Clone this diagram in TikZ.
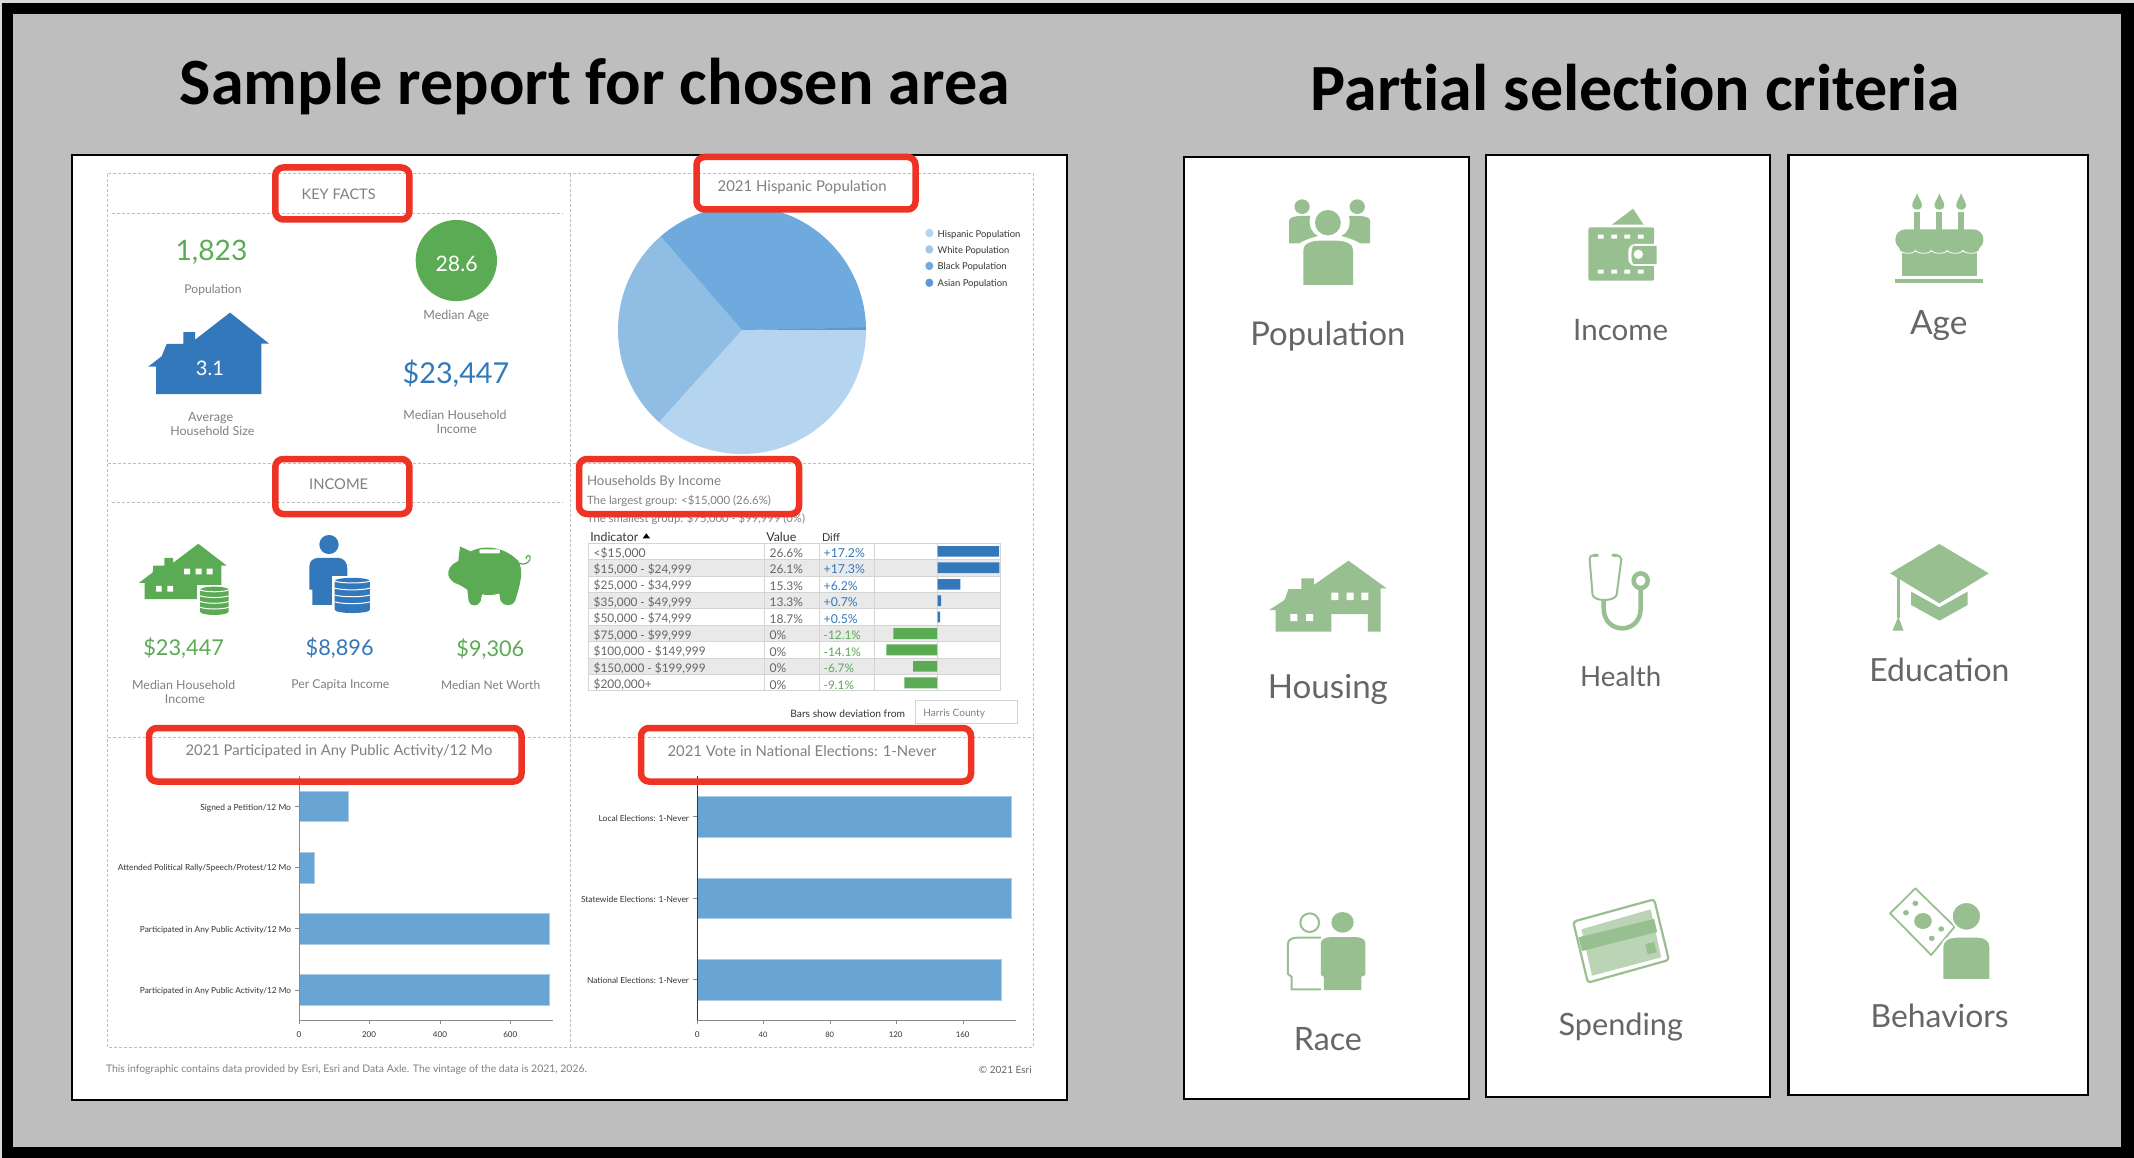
\documentclass[tikz,border=0pt]{standalone}
\usepackage{fontspec}
\usepackage{graphicx}
\setmainfont{Lato}
\newfontfamily\titlef[Ligatures=NoCommon]{Carlito}
\definecolor{bggray}{HTML}{BEBEBE}
\definecolor{redb}{HTML}{EE3224}
\definecolor{gr}{HTML}{5AAB54}
\definecolor{bl}{HTML}{3378BB}
\definecolor{barb}{HTML}{68A4D4}
\definecolor{sage}{HTML}{98BF90}
\definecolor{sagel}{HTML}{BCD4B6}
\definecolor{pieA}{HTML}{B5D4EF}
\definecolor{pieB}{HTML}{8FBDE4}
\definecolor{pieC}{HTML}{6EAADD}
\definecolor{pieD}{HTML}{5B9BD5}
\definecolor{rowg}{HTML}{E9E9E9}
\definecolor{gridc}{HTML}{D4D4D4}
\definecolor{dashc}{HTML}{BEBEBE}
\definecolor{t7}{HTML}{808080}
\definecolor{t6}{HTML}{666666}
\definecolor{t3}{HTML}{333333}
\definecolor{axc}{HTML}{8A8A8A}
\newcounter{tn}
\newcommand{\tx}[5][]{\stepcounter{tn}\node[txt,#1] (t\thetn) at (#2,#3) {\resizebox{#4pt}{!}{#5}};}
\newcommand{\coinstack}[6]{%
  \fill[white] (#1-#4-8,#2-6) rectangle (#1+#4+8,#3+6);
  \fill[#6] (#1-#4,#2+8) .. controls (#1-#4,#2-4) and (#1+#4,#2-4) .. (#1+#4,#2+8) -- (#1+#4,#3-8) .. controls (#1+#4,#3+4) and (#1-#4,#3+4) .. (#1-#4,#3-8) -- cycle;
  \foreach \k in {0,1,2,3}{\draw[white,line width=1pt] (#1-#4,{#2+8+\k*#5}) .. controls (#1-#4*0.5,{#2+14+\k*#5}) and (#1+#4*0.5,{#2+14+\k*#5}) .. (#1+#4,{#2+8+\k*#5});}
}
\newcommand{\trow}[8]{%
  \tx[anchor=west,text=t6]{56}{#1}{#3}{#2}
  \tx[anchor=west,text=t6]{584}{#1}{#5}{#4}
  \tx[anchor=west,text=#8]{746}{#1}{#7}{#6}
}
\tikzset{
  txt/.style={inner sep=0pt,outer sep=0pt,font=\fontsize{20}{24}\selectfont},
  low/.style={txt/.append style={yshift=-1.2pt}},
  redbox/.style={draw=redb,line width=6.5pt,rounded corners=8pt},
  panel/.style={draw=black,fill=white,line width=2.6pt},
  dashl/.style={draw=dashc,line width=0.9pt,dash pattern=on 3pt off 2pt},
  barf/.style={fill=barb,draw=barb!55!white,line width=0.7pt},
  z1/.style={shift={(60,140)},x=0.33333pt,y=-0.38270pt,low},
  z2/.style={shift={(570,140)},x=0.33333pt,y=-0.38270pt,low},
  z3/.style={shift={(60,720)},x=0.33333pt,y=-0.33333pt,low},
  z4/.style={shift={(570,720)},x=0.33333pt,y=-0.33333pt,low},
  z5/.style={shift={(1180,150)},x=0.58685pt,y=-0.33333pt},
  z6/.style={shift={(1180,520)},x=0.58685pt,y=-0.33333pt},
  z7/.style={shift={(1180,860)},x=0.58685pt,y=-0.33333pt},
  z8/.style={shift={(575,455)},x=0.33333pt,y=-0.33333pt,low},
}
\begin{document}
\begin{tikzpicture}[x=1pt,y=-1pt]
\path[use as bounding box] (0,0) rectangle (2134,1158);
\fill[white!85!black] (0,0) rectangle (2134,1158);
\fill[black] (2,3) rectangle (2134,1158);
\fill[bggray] (13,14) rectangle (2121,1147);
% titles
\tx[text=black]{595}{87}{830}{\titlef\bfseries Sample report for chosen area}
\tx[text=black]{1635.5}{87.5}{649}{\titlef\bfseries Partial selection criteria}
% report sheet
\draw[panel] (72,155) rectangle (1067,1100);
% dashed grid
\draw[dashl] (107.7,173.7) rectangle (1033.3,1047);
\draw[dashl] (570.7,173.7) -- (570.7,1047);
\draw[dashl] (107.7,463.4) -- (1033.3,463.4);
\draw[dashl] (107.7,737.7) -- (1033.3,737.7);
\draw[dashl] (112,213) -- (563,213);
\draw[dashl] (112,502.8) -- (563,502.8);
% KEY FACTS + INCOME
\begin{scope}[z1]
\tx[text=t7]{836}{140}{74}{KEY FACTS}
\tx[text=gr]{454.5}{291}{71.7}{1,823}
\tx[text=t7]{459}{388}{57}{Population}
\fill[gr] (1189,315) ellipse [x radius=122,y radius=106];
\tx[text=white]{1190}{320}{42}{28.6}
\tx[text=t7]{1189}{457}{66}{Median Age}
\fill[bl] (265,592) -- (305,565) -- (320,533) -- (370,533) -- (370,502) -- (405,502) -- (405,522) -- (510,451) -- (627,532) -- (604,532) -- (604,664) -- (288,664) -- (288,592) -- cycle;
\tx[text=white]{450}{593}{28}{3.1}
\tx[text=bl]{1188}{607}{106.7}{\$23,447}
\tx[text=t7]{1185}{716}{103}{Median Household}
\tx[text=t7]{1190}{752}{40}{Income}
\tx[text=t7]{452}{724}{45}{Average}
\tx[text=t7]{457}{758}{84}{Household Size}
\tx[text=t7]{836}{896}{59}{INCOME}
% green house
\fill[gr] (415,1055) -- (500,1112) -- (484,1112) -- (484,1170) -- (412,1170) -- (412,1200) -- (254,1200) -- (254,1157) -- (237,1157) -- (278,1130) -- (280,1112) -- (313,1112) -- (313,1092) -- (339,1092) -- (339,1105) -- cycle;
\fill[white] (372,1120) rectangle (390,1135) (407,1120) rectangle (425,1135) (440,1120) rectangle (458,1135) (288,1165) rectangle (305,1180) (322,1165) rectangle (339,1180);
\coinstack{463}{1168}{1240}{43}{15}{gr}
% blue person
\fill[bl] (807,1057) ellipse [x radius=29,y radius=25];
\fill[bl] (757,1215) -- (757,1175) -- (748,1175) -- (748,1115) .. controls (748,1100) and (760,1092) .. (775,1092) -- (835,1092) .. controls (852,1092) and (862,1105) .. (862,1120) -- (862,1215) -- cycle;
\coinstack{877}{1145}{1235}{53}{18}{bl}
% pig
\fill[gr] (1165,1128) .. controls (1170,1110) and (1185,1105) .. (1195,1100) -- (1200,1062) -- (1232,1075) .. controls (1270,1058) and (1330,1060) .. (1375,1100) .. controls (1390,1125) and (1385,1150) .. (1365,1205) .. controls (1360,1218) and (1330,1220) .. (1322,1205) -- (1318,1185) .. controls (1300,1190) and (1280,1190) .. (1266,1187) -- (1262,1205) .. controls (1255,1220) and (1230,1220) .. (1226,1205) -- (1222,1175) .. controls (1205,1165) and (1195,1160) .. (1185,1158) .. controls (1170,1150) and (1163,1140) .. (1165,1128) -- cycle;
\draw[gr,line width=1.2pt] (1378,1105) .. controls (1395,1115) and (1415,1100) .. (1410,1088) .. controls (1405,1082) and (1395,1090) .. (1400,1095);
\fill[white,rounded corners=1pt] (1258,1070) rectangle (1320,1080);
\tx[text=gr]{371}{1325}{80.7}{\$23,447}
\tx[text=bl]{839}{1325}{68}{\$8,896}
\tx[text=gr]{1291}{1328}{67.7}{\$9,306}
\tx[text=t7]{371}{1420}{103}{Median Household}
\tx[text=t7]{375}{1458}{40}{Income}
\tx[text=t7]{841}{1420}{98}{Per Capita Income}
\tx[text=t7]{1292}{1420}{99}{Median Net Worth}
\end{scope}
% PIE
\coordinate (pc) at (742,330);
\fill[pieA] (pc) -- ++(0:124) arc[start angle=0,end angle=132,radius=124] -- cycle;
\fill[pieB] (pc) -- ++(132:124) arc[start angle=132,end angle=229,radius=124] -- cycle;
\fill[pieC] (pc) -- ++(229:124) arc[start angle=229,end angle=359,radius=124] -- cycle;
\fill[pieD] (pc) -- ++(358.8:124) arc[start angle=358.8,end angle=360,radius=124] -- cycle;
\begin{scope}[z2]
\tx[text=t7]{696.5}{120}{169}{2021 Hispanic Population}
\fill[pieA] (1078,243) ellipse [x radius=12,y radius=11];
\fill[pieB!85!white] (1078,286) ellipse [x radius=12,y radius=11];
\fill[pieC] (1078,329) ellipse [x radius=12,y radius=11];
\fill[pieD] (1078,373) ellipse [x radius=12,y radius=11];
\tx[anchor=west,text=t3]{1103}{244}{82.7}{Hispanic Population}
\tx[anchor=west,text=t3]{1103}{286}{71.7}{White Population}
\tx[anchor=west,text=t3]{1103}{329}{69}{Black Population}
\tx[anchor=west,text=t3]{1103}{373}{69.7}{Asian Population}
\end{scope}
% TABLE
\begin{scope}[z8]
\tx[anchor=west,text=t7]{36}{77}{134}{Households By Income}
\tx[anchor=west,text=t7]{36}{135}{184}{The largest group: <\$15,000 (26.6\%)}
\tx[anchor=west,text=t7]{36}{187}{218}{The smallest group: \$75,000 - \$99,999 (0\%)}
\tx[anchor=west,text=t3]{46}{243}{48}{Indicator}
\fill[black] (203,250) -- (214,235) -- (225,250) -- cycle;
\tx[anchor=west,text=t3]{574}{243}{30}{Value}
\tx[anchor=west,text=t3]{741}{243}{18}{Diff}
\foreach \r in {1,3,5,7}{\fill[rowg] (40,{265+49.2*\r}) rectangle (1275,{265+49.2*(\r+1)});}
\foreach \r in {0,...,9}{\draw[gridc,line width=1pt] (40,{265+49.2*\r}) -- (1275,{265+49.2*\r});}
\foreach \c in {40,569,734,899,1088,1275}{\draw[gridc,line width=1pt] (\c,265) -- (\c,708);}
\trow{291}{<\$15,000}{52}{26.6\%}{33.3}{+17.2\%}{41.3}{bl}
\trow{340}{\$15,000 - \$24,999}{98}{26.1\%}{33.3}{+17.3\%}{41.3}{bl}
\trow{389}{\$25,000 - \$34,999}{98}{15.3\%}{33.3}{+6.2\%}{34}{bl}
\trow{439}{\$35,000 - \$49,999}{98}{13.3\%}{33.3}{+0.7\%}{34}{bl}
\trow{488}{\$50,000 - \$74,999}{98}{18.7\%}{33.3}{+0.5\%}{34}{bl}
\trow{538}{\$75,000 - \$99,999}{98}{0\%}{16.7}{-12.1\%}{37.3}{gr}
\trow{587}{\$100,000 - \$149,999}{112}{0\%}{16.7}{-14.1\%}{37.3}{gr}
\trow{636}{\$150,000 - \$199,999}{112}{0\%}{16.7}{-6.7\%}{30.3}{gr}
\trow{686}{\$200,000+}{58}{0\%}{16.7}{-9.1\%}{30.3}{gr}
\fill[bl] (1088,273) rectangle (1272,305) (1088,322) rectangle (1273,354) (1088,372) rectangle (1156,404) (1088,421) rectangle (1098,453) (1088,470) rectangle (1095,502);
\fill[gr] (955,519) rectangle (1086,552) (934,568) rectangle (1086,601) (1014,618) rectangle (1086,650) (988,667) rectangle (1086,700);
\tx[anchor=west,text=t3]{646}{773}{114.7}{Bars show deviation from}
\draw[gridc,line width=1pt] (1020,735) rectangle (1328,805);
\tx[anchor=west,text=t7]{1045}{773}{61.7}{Harris County}
\end{scope}
% left bar chart
\begin{scope}[z3]
\tx[text=t7]{837}{90}{306.7}{2021 Participated in Any Public Activity/12 Mo}
\path[barf] (718,213) rectangle (866,305) (718,397) rectangle (762,489) (718,580) rectangle (1468,672) (718,764) rectangle (1468,856);
\draw[axc,line width=1pt] (718,168) -- (718,901) -- (1478,901);
\foreach \y in {259,442,626,810}{\draw[axc,line width=1pt] (706,\y) -- (718,\y);}
\foreach \x in {718,929,1141,1351}{\draw[axc,line width=1pt] (\x,901) -- (\x,912);}
\tx[anchor=east,text=t3]{693}{260}{90.7}{Signed a Petition/12 Mo}
\tx[anchor=east,text=t3]{693}{441}{173}{Attended Political Rally/Speech/Protest/12 Mo}
\tx[anchor=east,text=t3]{693}{626}{151}{Participated in Any Public Activity/12 Mo}
\tx[anchor=east,text=t3]{693}{809}{151}{Participated in Any Public Activity/12 Mo}
\tx[text=t3]{717}{941}{4.7}{0}
\tx[text=t3]{927}{941}{14}{200}
\tx[text=t3]{1140}{941}{14}{400}
\tx[text=t3]{1351}{941}{14}{600}
\tx[anchor=west,text=t7]{138}{1045}{481}{This infographic contains data provided by Esri, Esri and Data Axle. The vintage of the data is 2021, 2026.}
\end{scope}
% right bar chart
\begin{scope}[z4]
\tx[text=t7]{696}{90}{269}{2021 Vote in National Elections: 1-Never}
\path[barf] (382,229) rectangle (1323,351) (382,474) rectangle (1323,595) (382,718) rectangle (1293,840);
\draw[axc,line width=1pt] (382,901) -- (1337,901);
\draw[t3,line width=1pt] (382,168) -- (382,901);
\foreach \y in {290,534,778}{\draw[axc,line width=1pt] (370,\y) -- (382,\y);}
\foreach \x in {382,580,781,980,1179}{\draw[axc,line width=1pt] (\x,901) -- (\x,912);}
\tx[anchor=east,text=t3]{357}{291}{90.3}{Local Elections: 1-Never}
\tx[anchor=east,text=t3]{357}{534}{108}{Statewide Elections: 1-Never}
\tx[anchor=east,text=t3]{357}{778}{102}{National Elections: 1-Never}
\tx[text=t3]{382}{941}{4.7}{0}
\tx[text=t3]{579}{941}{8.7}{40}
\tx[text=t3]{779}{941}{8.7}{80}
\tx[text=t3]{977}{941}{13.7}{120}
\tx[text=t3]{1178}{941}{13.7}{160}
\tx[text=t6]{1306}{1045}{52.7}{© 2021 Esri}
\end{scope}
% red highlight boxes
\draw[redbox] (275.3,167.5) rectangle (409.4,219.5);
\draw[redbox] (275.3,459) rectangle (409.4,514);
\draw[redbox] (149,728) rectangle (521.5,781.5);
\draw[redbox] (696.5,157) rectangle (915.5,209.5);
\draw[redbox] (579,459) rectangle (799,514);
\draw[redbox] (641,728) rectangle (971,781.5);
% right-hand panels
\draw[panel] (1184,157) rectangle (1469,1099);
\draw[panel] (1486,155) rectangle (1770,1097);
\draw[panel] (1788.6,155) rectangle (2088,1095);
\begin{scope}[z5]
% population icon
\fill[sage] (208,170) ellipse [x radius=13,y radius=22] (302,170) ellipse [x radius=13,y radius=22];
\fill[sage] (186,280) -- (186,212) .. controls (186,203) and (195,198) .. (205,198) -- (222,198) .. controls (218,230) and (225,250) .. (235,258) .. controls (220,265) and (210,272) .. (203,280) -- cycle;
\fill[sage] (324,280) -- (324,212) .. controls (324,203) and (315,198) .. (305,198) -- (288,198) .. controls (292,230) and (285,250) .. (275,258) .. controls (290,265) and (300,272) .. (307,280) -- cycle;
\fill[sage] (252,218) ellipse [x radius=22,y radius=38];
\fill[sage] (210,405) -- (210,300) .. controls (210,280) and (225,272) .. (240,272) -- (265,272) .. controls (282,272) and (295,282) .. (295,300) -- (295,405) -- cycle;
\tx[text=t6]{252}{559}{155}{Population}
% wallet
\fill[sage] (736,224) -- (772,176) -- (790,224) -- cycle;
\fill[sage,rounded corners=2pt] (696,232) rectangle (808,392);
\fill[white,rounded corners=7pt] (764,282) rectangle (830,348);
\fill[white] (808,270) rectangle (830,360);
\fill[sage] (772,288) -- (812,288) -- (812,342) -- (772,342) .. controls (768,325) and (768,305) .. (772,288) -- cycle;
\fill[white] (781,313) ellipse [x radius=8,y radius=14];
\foreach \x in {712,735,757,780}{\fill[white] (\x,254) rectangle (\x+10,266) (\x,359) rectangle (\x+10,371);}
\tx[text=t6]{751}{540}{95}{Income}
% cake
\foreach \x in {1256,1294,1331}{
  \fill[sage] (\x,130) .. controls (\x+3,145) and (\x+10,160) .. (\x+8,170) .. controls (\x+6,182) and (\x-6,182) .. (\x-8,170) .. controls (\x-10,160) and (\x-3,145) .. (\x,130) -- cycle;
  \fill[sage] (\x-5,186) rectangle (\x+5,240);
}
\fill[sage] (1230,306) rectangle (1358,378);
\fill[sage] (1219,388) rectangle (1369,398);
\foreach \x in {1240,1267,1294,1321,1348}{\fill[sage,draw=white,line width=0.8pt] (\x,296) ellipse [x radius=15,y radius=14];}
\fill[sage,rounded corners=10pt] (1219,238) rectangle (1369,300);
\tx[text=t6]{1293}{526}{57.5}{Age}
\end{scope}
\begin{scope}[z6]
% house
\fill[sage] (287,122) -- (352,205) -- (342,205) -- (342,335) -- (320,335) -- (320,282) -- (258,282) -- (258,335) -- (163,335) -- (163,270) -- (152,270) -- (178,240) -- (185,207) -- (207,207) -- (207,175) -- (228,175) -- (228,195) -- cycle;
\fill[white] (258,218) rectangle (270,240) (284,218) rectangle (296,240) (309,218) rectangle (321,240) (188,282) rectangle (200,303) (215,282) rectangle (227,303);
\tx[text=t6]{252}{508}{120}{Housing}
% stethoscope
\draw[sage,line width=2pt] (708,106) .. controls (700,106) and (697,110) .. (698,118) -- (703,225) .. controls (706,245) and (740,245) .. (744,225) -- (752,118) .. controls (752,110) and (748,106) .. (741,106);
\fill[sage] (708,106) ellipse [x radius=6,y radius=5] (741,106) ellipse [x radius=6,y radius=5];
\draw[sage,line width=4.5pt] (722,240) -- (722,265) .. controls (722,345) and (785,345) .. (785,265) -- (785,205);
\draw[sage,line width=4.5pt,fill=white] (785,182) ellipse [x radius=12,y radius=22];
\tx[text=t6]{751}{470}{81}{Health}
% cap
\fill[sage] (1294,72) -- (1378,160) -- (1294,250) -- (1210,160) -- cycle;
\fill[sage] (1246,215) -- (1294,262) -- (1342,215) -- (1342,255) -- (1294,302) -- (1246,255) -- cycle;
\fill[sage] (1221,172) rectangle (1227,295);
\fill[sage] (1224,290) -- (1233,332) -- (1214,332) -- cycle;
\tx[text=t6]{1294}{450}{140}{Education}
\end{scope}
\begin{scope}[z7]
% race
\draw[sage,line width=2pt] (221,188) ellipse [x radius=16,y radius=28];
\draw[sage,line width=2pt] (240,233) -- (200,233) .. controls (190,233) and (184,240) .. (184,252) -- (184,342) -- (190,350) -- (190,388) -- (240,388);
\fill[sage] (277,187) ellipse [x radius=19,y radius=31];
\fill[sage] (245,390) -- (245,350) -- (240,345) -- (240,250) .. controls (240,238) and (248,231) .. (258,231) -- (298,231) .. controls (308,231) and (316,238) .. (316,250) -- (316,345) -- (309,350) -- (309,390) -- cycle;
\tx[text=t6]{252}{537}{68}{Race}
% card
\draw[sage,line width=2.2pt,fill=white,rounded corners=3pt] (670,185) -- (808,118) -- (833,300) -- (695,368) -- cycle;
\fill[sagel] (684,208) -- (802,148) -- (820,292) -- (702,347) -- cycle;
\fill[sage] (679,232) -- (808,177) -- (813,216) -- (685,273) -- cycle;
\fill[sage] (793,252) -- (808,246) -- (812,277) -- (797,283) -- cycle;
\tx[text=t6]{751}{500}{124.4}{Spending}
% behaviors
\draw[sage,line width=1.8pt,line join=round] (1253,85) -- (1320,200) -- (1280,285) -- (1210,160) -- cycle;
\fill[sage] (1266,183) ellipse [x radius=15,y radius=24];
\fill[sage] (1237,158) ellipse [x radius=5,y radius=8] (1253,130) ellipse [x radius=5,y radius=8] (1297,207) ellipse [x radius=5,y radius=8] (1281,235) ellipse [x radius=5,y radius=8];
\fill[sage,draw=white,line width=2pt] (1340,169) ellipse [x radius=25,y radius=43];
\fill[sage,draw=white,line width=2pt] (1299,360) -- (1299,260) .. controls (1299,240) and (1310,230) .. (1322,230) -- (1358,230) .. controls (1372,230) and (1381,240) .. (1381,260) -- (1381,360) -- cycle;
\tx[text=t6]{1294.5}{469}{138}{Behaviors}
\end{scope}
\end{tikzpicture}
\end{document}
